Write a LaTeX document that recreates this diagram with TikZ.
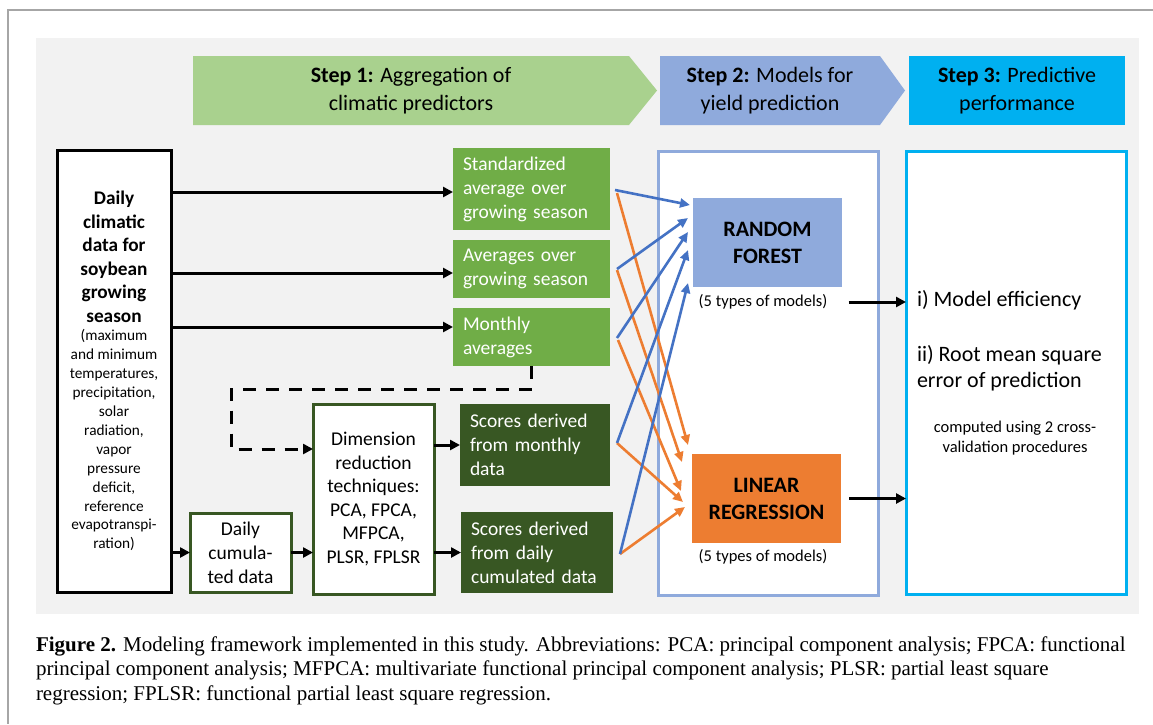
\documentclass[tikz,border=0pt]{standalone}
\usepackage{fontspec}
\setmainfont{Carlito}
\newfontfamily\capfont{Liberation Serif}
\usetikzlibrary{arrows.meta,calc}
\definecolor{panelbg}{HTML}{F2F2F2}
\definecolor{stepone}{HTML}{A9D18E}
\definecolor{steptwo}{HTML}{8FAADC}
\definecolor{stepthree}{HTML}{00B0F0}
\definecolor{glight}{HTML}{70AD47}
\definecolor{gdark}{HTML}{385723}
\definecolor{orng}{HTML}{ED7D31}
\definecolor{arrblue}{HTML}{4472C4}
\definecolor{framegray}{HTML}{A6A6A6}
\newcommand\myfs[2]{\fontsize{#1}{#2}\selectfont}
\begin{document}
\begin{tikzpicture}[x=1pt,y=-1pt,
  every node/.style={outer sep=0pt},
  gbox/.style={inner xsep=10pt, inner ysep=0pt, align=left, text=white, font=\myfs{19.5}{24}, anchor=north west},
  obox/.style={draw=gdark, line width=3pt, fill=white, inner sep=0pt, align=center, font=\myfs{19.5}{23.5}, anchor=north west},
  mbox/.style={inner sep=0pt, align=center, font=\myfs{22}{27}\bfseries, anchor=north west},
  frame/.style={line width=3pt, fill=white, inner sep=0pt, anchor=north west},
  blk/.style={line width=3pt, -{Triangle[length=10pt,width=10pt]}},
  dsh/.style={line width=3pt, dash pattern=on 13pt off 10pt, -{Triangle[length=10pt,width=10pt]}},
  bl/.style={draw=arrblue, line width=2.6pt, -{Triangle[length=10pt,width=9pt]}},
  or/.style={draw=orng, line width=2.6pt, -{Triangle[length=10pt,width=9pt]}},
  steptxt/.style={align=center, font=\myfs{22}{27.5}},
  lab/.style={font=\myfs{16.5}{20}},
  captxt/.style={anchor=base west, inner sep=0pt, font=\capfont\myfs{21}{24.5}}
]
\useasboundingbox (0,0) rectangle (1153,724);
\fill[white] (0,0) rectangle (1153,724);
% page frame
\draw[framegray, line width=1.5pt] (1153,10) -- (8,10) -- (8,724);
% panel
\fill[panelbg] (36,38) rectangle (1139,614);

% step banners
\fill[stepone] (193,56) -- (629,56) -- (657,90.5) -- (629,125) -- (193,125) -- cycle;
\fill[steptwo] (660,56) -- (880,56) -- (905,90.5) -- (880,125) -- (660,125) -- cycle;
\fill[stepthree] (909,56) rectangle (1125,125);
\node[steptxt] (s1) at (411,90.5) {\textbf{Step 1:} Aggregation of\\climatic predictors};
\node[steptxt] (s2) at (770,90.5) {\textbf{Step 2:} Models for\\yield prediction};
\node[steptxt] (s3) at (1017,90.5) {\textbf{Step 3:} Predictive\\performance};

% input box
\node[frame, draw=black, minimum width=114pt, minimum height=442pt] (big) at (57,150)
 {\parbox{112pt}{\centering\myfs{19.3}{23.5}\bfseries Daily\\climatic\\data for\\soybean\\growing\\season\par
  \myfs{15.3}{18.9}\mdseries (maximum\\and minimum\\temperatures,\\precipitation,\\solar\\radiation,\\vapor\\pressure\\deficit,\\reference\\evapotranspi-\\ration)\par}};

% aggregated predictors
\node[gbox, fill=glight, text width=137pt, minimum height=82pt] (std) at (453,148) {Standardized\\average over\\growing season};
\node[gbox, fill=glight, text width=137pt, minimum height=58pt] (avg) at (453,240) {Averages over\\growing season};
\node[gbox, fill=glight, text width=137pt, minimum height=58pt] (mon) at (453,308) {Monthly\\averages};
\node[gbox, fill=gdark, text width=130pt, minimum height=82pt] (sm) at (460,404) {Scores derived\\from monthly\\data};
\node[gbox, fill=gdark, text width=132pt, minimum height=81pt] (sd) at (461,512) {Scores derived\\from daily\\cumulated data};

% dimension reduction
\node[obox, minimum width=121pt, minimum height=190pt] (dim) at (313,404) {Dimension\\reduction\\techniques:\\PCA, FPCA,\\MFPCA,\\PLSR, FPLSR};
\node[obox, minimum width=101pt, minimum height=79pt, font=\myfs{19.5}{24}] (cum) at (190,513) {Daily\\cumula-\\ted data};

% step 2 and 3 frames
\node[frame, draw=steptwo, minimum width=220pt, minimum height=444pt] (s2box) at (658,151) {};
\node[frame, draw=stepthree, minimum width=220pt, minimum height=443pt] (s3box) at (906,151) {};

% models
\node[mbox, fill=steptwo, minimum width=149pt, minimum height=89pt] (rf) at (693,198) {RANDOM\\FOREST};
\node[mbox, fill=orng, minimum width=149pt, minimum height=89pt] (lr) at (692,454) {LINEAR\\REGRESSION};
\node[lab] (rflab) at (763,302) {(5 types of models)};
\node[lab] (lrlab) at (763,557) {(5 types of models)};

% performance texts
\node[anchor=west, font=\myfs{22}{26}, inner sep=0pt] (eff) at (917,300) {i) Model efficiency};
\node[anchor=west, font=\myfs{22}{26}, inner sep=0pt, align=left] (rmse) at (917,368) {ii) Root mean square\\error of prediction};
\node[lab, align=center] (cv) at (1015,438) {computed using 2 cross-\\validation procedures};

% black connectors
\draw[blk] ([yshift=-3pt]std.west -| big.east) -- ([yshift=-3pt]std.west);
\draw[blk] ([yshift=-4pt]avg.west -| big.east) -- ([yshift=-4pt]avg.west);
\draw[blk] ([yshift=10pt]mon.west -| big.east) -- ([yshift=10pt]mon.west);
\draw[blk] (cum.west -| big.east) -- (cum.west);
\draw[blk] (cum.east) -- (cum.east -| dim.west);
\draw[blk] (sm.west -| dim.east) -- (sm.west);
\draw[blk] (sd.west -| dim.east) -- (sd.west);
\coordinate (dk) at (231,389);
\draw[dsh] (mon.south) |- (dk) |- ($(dim.west)+(0,-50)$);
\draw[blk] ([xshift=18pt]rflab.east) -- (rflab.east -| s3box.west);
\draw[blk] ([xshift=8pt]lr.east) -- (lr.east -| s3box.west);

% orange connectors
\draw[or] ($(std.east)+(7,4)$) -- ($(lr.north west)+(-4,-9)$);
\draw[or] ($(avg.east)+(7,1)$) -- ($(lr.north west)+(-10,8)$);
\draw[or] ($(mon.east)+(8,3)$) -- ($(lr.north west)+(-11,37)$);
\draw[or] ($(sm.east)+(7,-2)$) -- ($(lr.north west)+(-9,48)$);
\draw[or] ($(sd.east)+(7,1.5)$) -- ($(lr.north west)+(-7,53)$);
% blue connectors
\draw[bl] ($(std.east)+(5,1)$) -- ($(rf.north west)+(-3,7)$);
\draw[bl] ($(avg.east)+(7,0)$) -- ($(rf.north west)+(-5,20)$);
\draw[bl] ($(mon.east)+(7,1)$) -- ($(rf.north west)+(-5,34)$);
\draw[bl] ($(sm.east)+(7,-2)$) -- ($(rf.north west)+(-5,52)$);
\draw[bl] ($(sd.east)+(7,1.5)$) -- ($(rf.north west)+(-5,85)$);

% caption
\node[captxt] (cap1) at (36,651) {\textbf{Figure 2.} Modeling framework implemented in this study. Abbreviations: PCA: principal component analysis; FPCA: functional};
\node[captxt] (cap2) at (36,675.5) {principal component analysis; MFPCA: multivariate functional principal component analysis; PLSR: partial least square};
\node[captxt] (cap3) at (36,700) {regression; FPLSR: functional partial least square regression.};
\end{tikzpicture}
\end{document}
